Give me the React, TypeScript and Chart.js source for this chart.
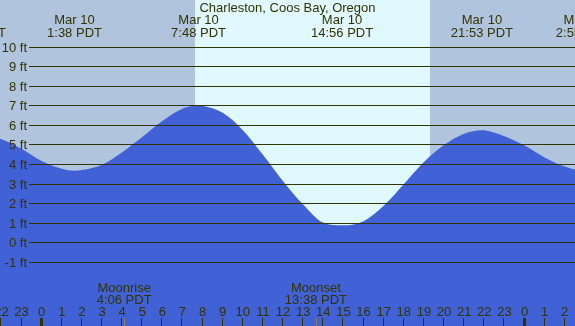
import React, { useEffect, useRef } from "react";
import { Chart, registerables } from "chart.js";

Chart.register(...registerables);

const stationTitle = "Charleston, Coos Bay, Oregon";

// tide curve (hours relative to midnight Mar 10, feet)
const tideHours = [-3, -2, -1, 0, 1, 1.63, 2, 3, 4, 5, 6, 7, 7.8, 8, 9, 10, 11, 12, 13, 14, 14.93, 15, 16, 17, 18, 19, 20, 21, 21.88, 22, 23, 24, 25, 26, 26.92, 28];
const tideFeet = [5.55, 5.27, 4.78, 4.15, 3.76, 3.66, 3.69, 3.96, 4.6, 5.38, 6.2, 6.82, 7.0, 6.98, 6.62, 5.73, 4.47, 3.12, 1.93, 1.0, 0.87, 0.87, 1.08, 1.87, 2.97, 4.1, 4.97, 5.55, 5.73, 5.72, 5.42, 4.94, 4.33, 3.87, 3.66, 3.9];

// tide event labels at top
const eventHours = [-3.32, 1.633, 7.8, 14.933, 21.883, 26.92];
const eventDates = ["Mar 9", "Mar 10", "Mar 10", "Mar 10", "Mar 10", "Mar 11"];
const eventTimes = ["18:41 PDT", "1:38 PDT", "7:48 PDT", "14:56 PDT", "21:53 PDT", "2:55 PDT"];

// moon events
const moonHours = [4.1, 13.633];
const moonNames = ["Moonrise", "Moonset"];
const moonTimes = ["4:06 PDT", "13:38 PDT"];

// daylight
const sunriseHour = 7.62;
const sunsetHour = 19.3;

// y axis ticks (ft)
const footTicks = [10, 9, 8, 7, 6, 5, 4, 3, 2, 1, 0, -1];

// hour ticks
const hourTicks = [-2, -1, 0, 1, 2, 3, 4, 5, 6, 7, 8, 9, 10, 11, 12, 13, 14, 15, 16, 17, 18, 19, 20, 21, 22, 23, 24, 25, 26];

const X_MIN = -2.07;
const X_MAX = 26.51;
const Y_MIN = -4.277;
const Y_MAX = 12.38;

const TEXT = "#333300";
const FONT = "13px 'Liberation Sans', Arial, sans-serif";

const decorPlugin = {
  id: "tideDecor",
  beforeDatasetsDraw(chart: any) {
    const ctx = chart.ctx;
    const xs = chart.scales.x;
    const W = chart.width;
    const H = chart.height;
    ctx.save();
    ctx.fillStyle = "#b0c4de";
    ctx.fillRect(0, 0, W, H);
    const x1 = Math.round(xs.getPixelForValue(sunriseHour));
    const x2 = Math.round(xs.getPixelForValue(sunsetHour));
    ctx.fillStyle = "#e0f8ff";
    ctx.fillRect(x1, 0, x2 - x1, H);
    ctx.restore();
  },
  afterDatasetsDraw(chart: any) {
    const ctx = chart.ctx;
    const xs = chart.scales.x;
    const ys = chart.scales.y;
    const W = chart.width;
    const H = chart.height;
    ctx.save();
    // grid lines
    ctx.strokeStyle = TEXT;
    ctx.lineWidth = 1;
    ctx.font = FONT;
    ctx.fillStyle = TEXT;
    footTicks.forEach((v) => {
      const y = Math.round(ys.getPixelForValue(v)) + 0.5;
      ctx.beginPath();
      ctx.moveTo(29, y);
      ctx.lineTo(W, y);
      ctx.stroke();
      ctx.textAlign = "right";
      ctx.textBaseline = "alphabetic";
      ctx.fillText(v + " ft", 27, y + 4.2);
    });
    // title
    ctx.textAlign = "center";
    ctx.fillText(stationTitle, W / 2, 12);
    // tide events
    eventHours.forEach((h, i) => {
      const x = xs.getPixelForValue(h);
      ctx.fillText(eventDates[i], x, 24);
      ctx.fillText(eventTimes[i], x, 36.5);
    });
    // moon events
    moonHours.forEach((h, i) => {
      const x = xs.getPixelForValue(h);
      ctx.fillText(moonNames[i], x, 292);
      ctx.fillText(moonTimes[i], x, 304);
      ctx.fillStyle = "#8a7f55";
      ctx.fillRect(Math.round(x), 318, 1, H - 318);
      ctx.fillStyle = TEXT;
    });
    // hour ticks
    hourTicks.forEach((h) => {
      const x = xs.getPixelForValue(h);
      const label = String(((h % 24) + 24) % 24);
      ctx.fillText(label, x, 316);
      const mid = ((h % 24) + 24) % 24 === 0;
      if (mid) ctx.fillRect(Math.round(x) - 2, 318, 3, H - 318);
      else ctx.fillRect(Math.round(x) - 1, 318, 1, H - 318);
    });
    ctx.restore();
  },
};

export default function App() {
  const ref = useRef<HTMLCanvasElement | null>(null);
  useEffect(() => {
    document.body.style.margin = "0";
    document.body.style.overflow = "hidden";
    if (!ref.current) return;
    const chart = new Chart(ref.current, {
      type: "line",
      data: {
        datasets: [
          {
            data: tideHours.map((h, i) => ({ x: h, y: tideFeet[i] })),
            borderWidth: 0,
            borderColor: "rgba(0,0,0,0)",
            backgroundColor: "#4161d6",
            fill: "start",
            pointRadius: 0,
            cubicInterpolationMode: "monotone",
          },
        ],
      },
      options: {
        animation: false,
        responsive: false,
        maintainAspectRatio: false,
        layout: { padding: 0 },
        plugins: { legend: { display: false }, tooltip: { enabled: false }, title: { display: false } },
        events: [],
        scales: {
          x: { type: "linear", min: X_MIN, max: X_MAX, display: false },
          y: { type: "linear", min: Y_MIN, max: Y_MAX, display: false },
        },
      },
      plugins: [decorPlugin],
    });
    return () => chart.destroy();
  }, []);
  return (
    <div style={{ width: 575, height: 326 }}>
      <canvas ref={ref} width={575} height={326} style={{ display: "block", width: 575, height: 326 }} />
    </div>
  );
}
